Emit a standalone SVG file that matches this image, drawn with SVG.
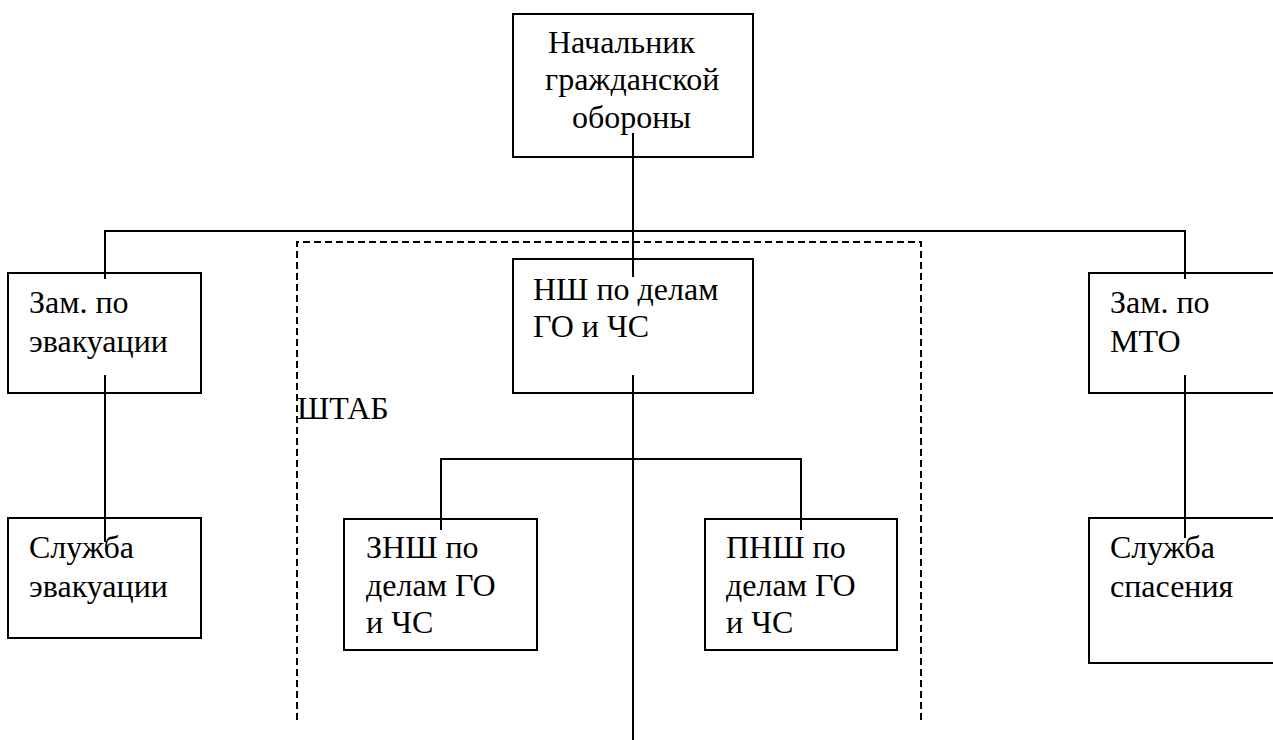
<svg xmlns="http://www.w3.org/2000/svg" width="1273" height="740" viewBox="0 0 1273 740">
<style>
.box{fill:#fff;stroke:#000;stroke-width:2}
.t{font-family:"Liberation Serif","Times New Roman","DejaVu Serif",serif;font-size:32px;fill:#000}
.ln{stroke:#000;stroke-width:2;fill:none}
.dash{stroke:#000;stroke-width:2;fill:none;stroke-dasharray:7 4}
</style>
<rect width="1273" height="740" fill="#fff"/>
<g id="shtab">
<path class="dash" d="M297,720 V242 H921 V720"/>
<text class="t" x="297" y="419" font-family="DejaVu Serif" font-size="28">ШТАБ</text>
</g>
<g id="nachalnik">
<rect class="box" x="513" y="14" width="240" height="143"/>
<text class="t" x="548" y="53">Начальник</text>
<text class="t" x="545" y="90">гражданской</text>
<text class="t" x="572" y="128">обороны</text>
</g>
<g id="zam-evak">
<rect class="box" x="8" y="273" width="193" height="120"/>
<text class="t" x="29" y="313">Зам. по</text>
<text class="t" x="29" y="352">эвакуации</text>
</g>
<g id="nsh">
<rect class="box" x="513" y="259" width="240" height="134"/>
<text class="t" x="533" y="300">НШ по делам</text>
<text class="t" x="533" y="337">ГО и ЧС</text>
</g>
<g id="zam-mto">
<rect class="box" x="1089" y="273" width="200" height="120"/>
<text class="t" x="1110" y="313">Зам. по</text>
<text class="t" x="1110" y="352">МТО</text>
</g>
<g id="sl-evak">
<rect class="box" x="8" y="518" width="193" height="120"/>
<text class="t" x="29" y="558">Служба</text>
<text class="t" x="29" y="597">эвакуации</text>
</g>
<g id="znsh">
<rect class="box" x="344" y="519" width="193" height="131"/>
<text class="t" x="366" y="558">ЗНШ по</text>
<text class="t" x="366" y="596">делам ГО</text>
<text class="t" x="366" y="633">и ЧС</text>
</g>
<g id="pnsh">
<rect class="box" x="705" y="519" width="192" height="131"/>
<text class="t" x="726" y="558">ПНШ по</text>
<text class="t" x="726" y="596">делам ГО</text>
<text class="t" x="726" y="633">и ЧС</text>
</g>
<g id="sl-spas">
<rect class="box" x="1089" y="518" width="200" height="145"/>
<text class="t" x="1110" y="558">Служба</text>
<text class="t" x="1110" y="597">спасения</text>
</g>
<g id="connectors">
<path class="ln" d="M633,133 V277"/>
<path class="ln" d="M105,279 V231 H1185 V279"/>
<path class="ln" d="M633,375 V740"/>
<path class="ln" d="M441,530 V459 H801 V530"/>
<path class="ln" d="M105,375 V542"/>
<path class="ln" d="M1185,375 V538"/>
</g>
</svg>
